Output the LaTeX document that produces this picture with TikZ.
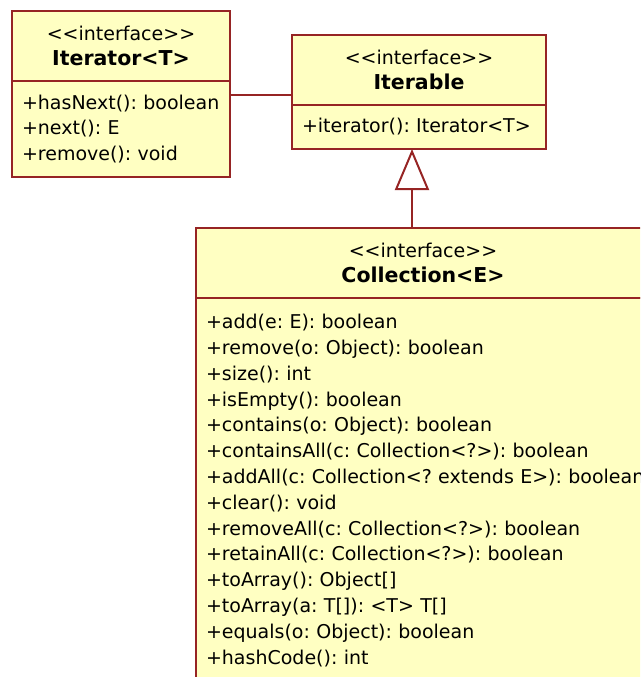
\documentclass[tikz,border=0pt]{standalone}
\usepackage{fontspec}
\setmainfont{DejaVu Sans}
\usetikzlibrary{positioning,arrows.meta}

\definecolor{umlfill}{RGB}{255,255,194}
\definecolor{umlline}{RGB}{150,36,36}
\newcommand{\umlname}[1]{{\fontsize{20.5}{26}\selectfont\bfseries #1}}

\begin{document}
\frenchspacing
\begin{tikzpicture}[x=1pt, y=-1pt,
    box/.style={draw=umlline, fill=umlfill, line width=2pt, inner sep=0pt, outer sep=0pt,
      font=\fontsize{19}{25.8}\selectfont},
    head/.style={box, align=center, minimum height=70pt},
    body/.style={box, align=left, inner xsep=10pt},
    link/.style={draw=umlline, line width=2pt},
    realize/.style={link, -{Triangle[open, length=41pt, width=34pt]}}]
  \useasboundingbox (0,0) rectangle (640,677);
  \clip (0,0) rectangle (640,677);

  % Iterator
  \node[head, minimum width=218pt] (iterHead) at (121,46)
    {<{}<interface>{}>\\ \umlname{Iterator<T>}};
  \node[body, text width=198pt, minimum height=96pt, below=0pt of iterHead] (iterBody)
    {+hasNext(): boolean\\ +next(): E\\ +remove(): void};

  % Iterable
  \node[head, minimum width=254pt] (ableHead) at (419,70)
    {<{}<interface>{}>\\ \umlname{Iterable}};
  \node[body, text width=234pt, minimum height=44pt, below=0pt of ableHead] (ableBody)
    {+iterator(): Iterator<T>};

  % Collection
  \node[head, minimum width=454pt] (collHead) at (423,263)
    {<{}<interface>{}>\\ \umlname{Collection<E>}};
  \node[body, text width=434pt, minimum height=385pt, below=0pt of collHead] (collBody)
    {+add(e: E): boolean\\
     +remove(o: Object): boolean\\
     +size(): int\\
     +isEmpty(): boolean\\
     +contains(o: Object): boolean\\
     +containsAll(c: Collection<?>): boolean\\
     \mbox{+addAll(c: Collection<? extends E>): boolean}\\
     +clear(): void\\
     +removeAll(c: Collection<?>): boolean\\
     +retainAll(c: Collection<?>): boolean\\
     +toArray(): Object[]\\
     +toArray(a: T[]): <T> T[]\\
     +equals(o: Object): boolean\\
     +hashCode(): int};

  % connectors
  \draw[link] (iterBody.north east) ++(0,14) coordinate (assoc) -- (assoc -| ableHead.west);
  \coordinate (tip) at ([xshift=-7pt]ableBody.south);
  \draw[realize] (tip |- collHead.north) -- (tip);
\end{tikzpicture}
\end{document}
